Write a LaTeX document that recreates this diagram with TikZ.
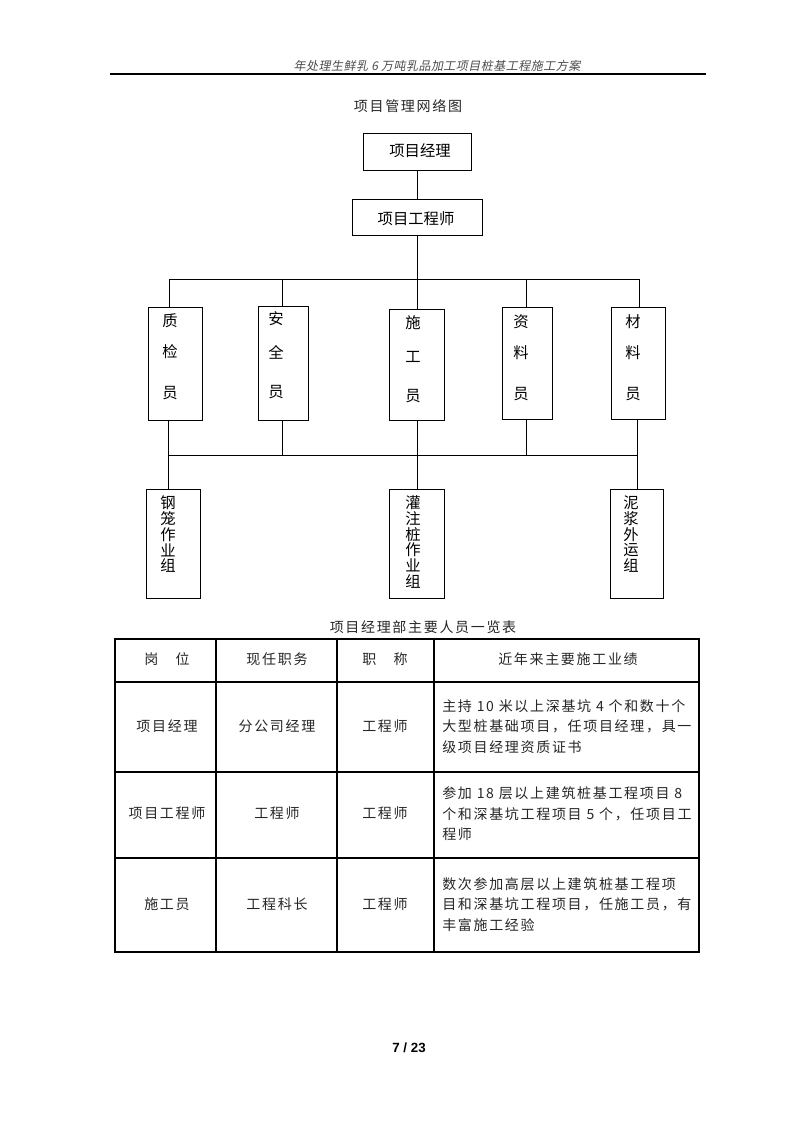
\documentclass[tikz,border=0pt]{standalone}
\usepackage{fontspec}
\newfontfamily\cjk{Noto Sans CJK SC}
\newfontfamily\cjkls[LetterSpace=12]{Noto Sans CJK SC}
\newfontfamily\cjkit[FakeSlant=0.2,LetterSpace=4]{Noto Sans CJK SC}
\newfontfamily\pgnum{Liberation Sans}
\begin{document}
\begin{tikzpicture}[x=0.75pt,y=-0.75pt,
  ln/.style={line width=0.75pt},
  orgbox/.style={draw,line width=0.75pt,inner sep=0pt},
  chr/.style={inner sep=0pt,font=\cjk\fontsize{11.5pt}{11.5pt}\selectfont},
  celltext/.style={inner sep=0pt,text=black!85,font=\cjkls\fontsize{10.5pt}{12pt}\selectfont},
  leftcell/.style={celltext,anchor=west}]
\useasboundingbox (0,0) rectangle (794,1123);
\fill[white] (0,0) rectangle (794,1123);

% header
\node[inner sep=0pt,text=black!70,font=\cjkit\fontsize{9pt}{10pt}\selectfont] (hdr) at (437,66) {年处理生鲜乳 6 万吨乳品加工项目桩基工程施工方案};
\draw[line width=0.9pt] (110,74) -- (706,74);

% title
\node[celltext] (title) at (408,106) {项目管理网络图};

% org chart boxes
\node[orgbox,minimum width=81pt,minimum height=27.75pt] (pm) at (417,152.5) {};
\node[chr] (pmt) at (420,151) {项目经理};
\node[orgbox,minimum width=97.5pt,minimum height=27pt] (pe) at (417,218) {};
\node[chr] (pet) at (416,219) {项目工程师};

\node[orgbox,minimum width=40.5pt,minimum height=84.75pt] (zj) at (175,363.5) {};
\node[orgbox,minimum width=37.5pt,minimum height=85.5pt] (aq) at (283,363) {};
\node[orgbox,minimum width=41.25pt,minimum height=83.25pt] (sg) at (416.5,364.5) {};
\node[orgbox,minimum width=37.5pt,minimum height=84pt] (zl) at (527,363) {};
\node[orgbox,minimum width=40.5pt,minimum height=84pt] (cl) at (638,363) {};

\foreach \c/\yy [count=\i] in {质/321,检/352,员/393} \node[chr] (zjt\i) at (170,\yy) {\c};
\foreach \c/\yy [count=\i] in {安/319,全/352,员/392} \node[chr] (aqt\i) at (276,\yy) {\c};
\foreach \c/\yy [count=\i] in {施/323,工/357,员/396} \node[chr] (sgt\i) at (413,\yy) {\c};
\foreach \c/\yy [count=\i] in {资/322,料/353,员/394} \node[chr] (zlt\i) at (521,\yy) {\c};
\foreach \c/\yy [count=\i] in {材/322,料/353,员/394} \node[chr] (clt\i) at (633,\yy) {\c};

\node[orgbox,minimum width=40.5pt,minimum height=81.75pt] (gl) at (173,543.5) {};
\node[orgbox,minimum width=41.25pt,minimum height=81.75pt] (gz) at (416.5,543.5) {};
\node[orgbox,minimum width=39.75pt,minimum height=81.75pt] (nj) at (636.5,543.5) {};

\foreach \c [count=\i] in {钢,笼,作,业,组} \node[chr] (glt\i) at (168,{503+15.7*(\i-1)}) {\c};
\foreach \c [count=\i] in {灌,注,桩,作,业,组} \node[chr] (gzt\i) at (413,{503+15.7*(\i-1)}) {\c};
\foreach \c [count=\i] in {泥,浆,外,运,组} \node[chr] (njt\i) at (631,{503+15.7*(\i-1)}) {\c};

% connectors
\coordinate (t1) at (169,279);
\coordinate (t2) at (282,279);
\coordinate (t3) at (417,279);
\coordinate (t4) at (526,279);
\coordinate (t5) at (639,279);
\coordinate (u1) at (168,455);
\coordinate (u2) at (282,455);
\coordinate (u3) at (417,455);
\coordinate (u4) at (526,455);
\coordinate (u5) at (637,455);

\draw[ln] (pm.south) -- (pe.north);
\draw[ln] (pe.south) -- (t3);
\draw[ln] (t1) -- (t5);
\draw[ln] (t1) -- (t1 |- zj.north);
\draw[ln] (t2) -- (t2 |- aq.north);
\draw[ln] (t3) -- (t3 |- sg.north);
\draw[ln] (t4) -- (t4 |- zl.north);
\draw[ln] (t5) -- (t5 |- cl.north);

\draw[ln] (u1 |- zj.south) -- (u1);
\draw[ln] (u2 |- aq.south) -- (u2);
\draw[ln] (u3 |- sg.south) -- (u3);
\draw[ln] (u4 |- zl.south) -- (u4);
\draw[ln] (u5 |- cl.south) -- (u5);
\draw[ln] (u1) -- (u5);
\draw[ln] (u1) -- (u1 |- gl.north);
\draw[ln] (u3) -- (u3 |- gz.north);
\draw[ln] (u5) -- (u5 |- nj.north);

% table
\node[celltext] (ttitle) at (423,627) {项目经理部主要人员一览表};
\draw[line width=0.8pt] (115,639) rectangle (699,952);
\foreach \xx in {216,337,434} \draw[line width=0.8pt] (\xx,639) -- (\xx,952);
\foreach \yy in {682,772,858} \draw[line width=0.8pt] (115,\yy) -- (699,\yy);

\node[celltext] (h1) at (167,659) {岗　位};
\node[celltext] (h2) at (277,659) {现任职务};
\node[celltext] (h3) at (385,659) {职　称};
\node[celltext] (h4) at (568,659) {近年来主要施工业绩};

\node[celltext] (r1c1) at (167,726) {项目经理};
\node[celltext] (r1c2) at (277,726) {分公司经理};
\node[celltext] (r1c3) at (385,726) {工程师};
\node[leftcell] (r1l1) at (442,706) {主持 10 米以上深基坑 4 个和数十个};
\node[leftcell] (r1l2) at (442,726) {大型桩基础项目，任项目经理，具一};
\node[leftcell] (r1l3) at (442,747) {级项目经理资质证书};

\node[celltext] (r2c1) at (167,813) {项目工程师};
\node[celltext] (r2c2) at (277,813) {工程师};
\node[celltext] (r2c3) at (385,813) {工程师};
\node[leftcell] (r2l1) at (442,793) {参加 18 层以上建筑桩基工程项目 8};
\node[leftcell] (r2l2) at (442,814) {个和深基坑工程项目 5 个，任项目工};
\node[leftcell] (r2l3) at (442,834) {程师};

\node[celltext] (r3c1) at (167,904) {施工员};
\node[celltext] (r3c2) at (277,904) {工程科长};
\node[celltext] (r3c3) at (385,904) {工程师};
\node[leftcell] (r3l1) at (442,884) {数次参加高层以上建筑桩基工程项};
\node[leftcell] (r3l2) at (442,904) {目和深基坑工程项目，任施工员，有};
\node[leftcell] (r3l3) at (442,925) {丰富施工经验};

% page number
\node[inner sep=0pt,font=\pgnum\bfseries\fontsize{10pt}{12pt}\selectfont] (pg) at (409,1048) {7 / 23};
\end{tikzpicture}
\end{document}
